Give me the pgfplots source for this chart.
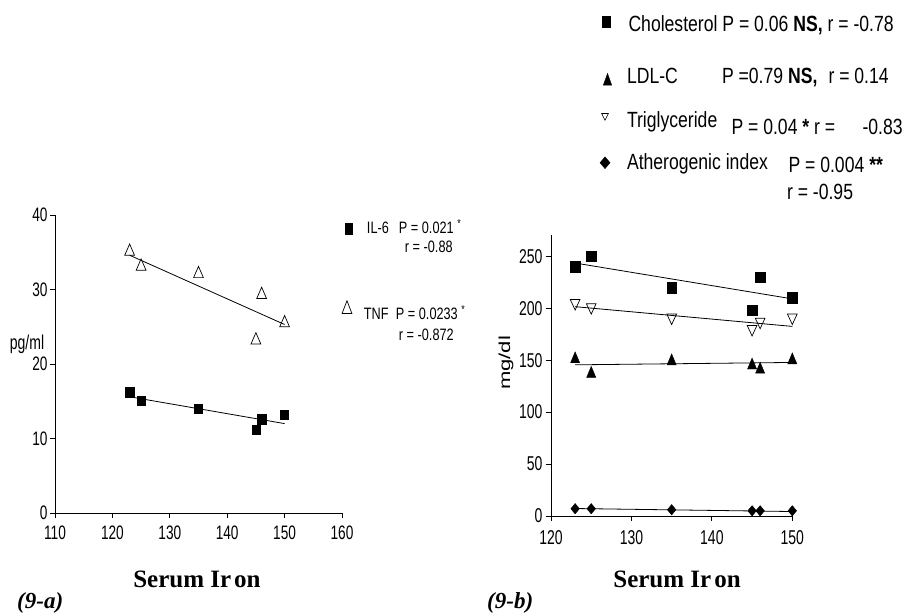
\documentclass[border=0pt]{standalone}
\usepackage{fontspec}
\setmainfont{Liberation Sans}
\newfontfamily\narA[FakeStretch=0.7]{Liberation Sans}
\newfontfamily\narL[FakeStretch=0.77]{Liberation Sans}
\newfontfamily\narB[FakeStretch=0.8]{Liberation Sans}
\newfontfamily\tms{Liberation Serif}
\usepackage{graphicx}
\usepackage{pgfplots}
\pgfplotsset{compat=1.18}
\usepackage{pgfplotstable}

\pgfplotsset{
  mlg/.style 2 args={legend image code/.code={\draw[##1,overlay] plot coordinates {(#1,#2)};}},
}
\newcommand{\lt}[3]{\rlap{\hspace{#1}\raisebox{#2}[0pt][0pt]{#3}}}

\pgfplotstableread{
x y
123 16.2
125 15.1
135 14.0
145 11.2
146 12.6
150 13.2
}\ilsix
\pgfplotstableread{
x y
123 15.6
150 12.0
}\ilsixfit
\pgfplotstableread{
x y
123 35.1
125 33.1
135 32.1
145 23.2
146 29.3
150 25.5
}\tnf
\pgfplotstableread{
x y
123 34.6
150 25.3
}\tnffit
\pgfplotstableread{
x y
123 240
125 250
135 219.5
145 198
146 230
150 210
}\chol
\pgfplotstableread{
x y
123 243.5
150 209
}\cholfit
\pgfplotstableread{
x y
123 151
125 137
135 149
145 145
146 141
150 150
}\ldl
\pgfplotstableread{
x y
123 145.5
150 147.8
}\ldlfit
\pgfplotstableread{
x y
123 205
125 201
135 191
145 180
146 187
150 191
}\trig
\pgfplotstableread{
x y
123 201.5
150 182.5
}\trigfit
\pgfplotstableread{
x y
123 7
125 7
135 6
145 5
146 5
150 5
}\ai
\pgfplotstableread{
x y
123 7.2
150 4.3
}\aifit

\begin{document}
\begin{tikzpicture}[x=1pt,y=1pt]
\path[use as bounding box] (0,0) rectangle (902,615);

% ---------------- left panel (9-a)
\begin{axis}[
  at={(55pt,102pt)}, anchor=south west, scale only axis,
  width=287pt, height=298pt,
  xmin=110, xmax=160, ymin=0, ymax=40,
  axis lines=left, axis line style={-, line width=0.9pt},
  xtick={110,120,...,160}, ytick={0,10,...,40},
  tick align=outside, major tick length=5pt,
  tick style={line width=0.9pt, black},
  tick label style={font=\narA\fontsize{19.5}{21}\selectfont},
  /pgf/number format/assume math mode=true,
  xticklabel style={yshift=-4pt},
  yticklabel style={xshift=1pt},
  clip=false,
  legend cell align=left,
  legend style={at={(rel axis cs:1.0226,0.9564)}, anchor=north west, draw=none, fill=none,
    font=\narL\fontsize{16.5}{19}\selectfont, inner sep=0pt, outer sep=0pt, row sep=0pt,
    nodes={inner sep=0pt, outer sep=0pt},
    /tikz/every odd column/.append style={column sep=15pt}},
]
\addlegendimage{black, mark=square*, mark size=5.8pt, mark options={xscale=0.6, fill=black}, mlg={0pt}{0pt}}
\addlegendentry{\lt{3pt}{-5.3pt}{IL-6}\lt{35pt}{-5.3pt}{P = 0.021 \textsuperscript{*}}\lt{41pt}{-24.7pt}{r = -0.88}}
\addlegendimage{black, mark=triangle, mark size=8.5pt, mark options={xscale=0.67, fill=white, line width=0.7pt}, mlg={-1.5pt}{-79pt}}
\addlegendentry{\lt{0pt}{-90.3pt}{TNF}\lt{32pt}{-90.3pt}{P = 0.0233 \textsuperscript{*}}\lt{35pt}{-111.3pt}{r = -0.872}}

\addplot[only marks, mark=square*, mark size=4.8pt, mark options={xscale=0.85, fill=black}, forget plot] table {\ilsix};
\addplot[black, line width=0.8pt, forget plot] table {\ilsixfit};
\addplot[only marks, mark=triangle, mark size=7.5pt, mark options={xscale=0.75, fill=white, line width=0.7pt}, forget plot] table {\tnf};
\addplot[black, line width=0.8pt, forget plot] table {\tnffit};
\end{axis}

% ---------------- right panel (9-b)
\begin{axis}[
  at={(551pt,99pt)}, anchor=south west, scale only axis,
  width=241.3pt, height=280.5pt,
  xmin=120, xmax=150, ymin=0, ymax=270,
  axis lines=left, axis line style={-, line width=0.9pt},
  xtick={120,130,...,150}, ytick={0,50,...,250},
  tick align=outside, major tick length=5pt,
  tick style={line width=0.9pt, black},
  tick label style={font=\narA\fontsize{20}{22}\selectfont},
  /pgf/number format/assume math mode=true,
  xticklabel style={yshift=-6pt},
  clip=false,
  legend cell align=left,
  legend style={at={(rel axis cs:0.228,1.7647)}, anchor=north west, draw=none, fill=none,
    font=\narB\fontsize{22}{26}\selectfont, inner sep=0pt, outer sep=0pt, row sep=0pt,
    nodes={inner sep=0pt, outer sep=0pt},
    /tikz/every odd column/.append style={column sep=20.5pt}},
]
\addlegendimage{black, mark=square*, mark size=5.85pt, mark options={xscale=0.71, fill=black}, mlg={0pt}{0pt}}
\addlegendentry{\lt{1.5pt}{-10.7pt}{Cholesterol P = 0.06 \textbf{NS,} r = -0.78}}
\addlegendimage{black, mark=triangle*, mark size=7.8pt, mark options={xscale=0.62, fill=black}, mlg={1.5pt}{-58pt}}
\addlegendentry{\lt{0pt}{-60.7pt}{LDL-C}\lt{95pt}{-60.7pt}{P =0.79 \textbf{NS,}}\lt{201.5pt}{-60.7pt}{r = 0.14}}
\addlegendimage{black, mark=triangle, mark size=4.5pt, mark options={rotate=180, xscale=0.86, fill=white, line width=0.6pt}, mlg={-1pt}{-91pt}}
\addlegendentry{\lt{0pt}{-104pt}{Triglyceride}\lt{104.5pt}{-110.7pt}{P = 0.04 \textbf{*} r =}\lt{235.5pt}{-110.7pt}{-0.83}}
\addlegendimage{black, mark=diamond*, mark size=5.85pt, mark options={xscale=1.14, fill=black}, mlg={-1pt}{-136.5pt}}
\addlegendentry{\lt{0pt}{-144pt}{Atherogenic index}\lt{161.5pt}{-147.3pt}{P = 0.004 \textbf{**}}\lt{160pt}{-174pt}{r = -0.95}}

\addplot[only marks, mark=square*, mark size=5.3pt, mark options={xscale=0.9, fill=black}, forget plot] table {\chol};
\addplot[black, line width=0.8pt, forget plot] table {\cholfit};
\addplot[only marks, mark=triangle*, mark size=7.3pt, mark options={xscale=0.72, fill=black}, forget plot] table {\ldl};
\addplot[black, line width=0.8pt, forget plot] table {\ldlfit};
\addplot[only marks, mark=triangle, mark size=7pt, mark options={rotate=180, xscale=0.8, fill=white, line width=0.7pt}, forget plot] table {\trig};
\addplot[black, line width=0.8pt, forget plot] table {\trigfit};
\addplot[only marks, mark=diamond*, mark size=5.2pt, mark options={xscale=1.1, fill=black}, forget plot] table {\ai};
\addplot[black, line width=0.8pt, forget plot] table {\aifit};
\end{axis}

% ---------------- labels
\node[anchor=center, font=\narA\fontsize{20}{22}\selectfont] at (27,271) {pg/ml};
\node[anchor=center, rotate=90] at (506,252) {\fontsize{22}{24}\selectfont\scalebox{1}[0.72]{mg/dl}};
\node[anchor=base, font=\tms\bfseries\fontsize{25}{28}\selectfont] at (197,27) {Serum Ir\kern3pt on};
\node[anchor=base, font=\tms\bfseries\fontsize{25}{28}\selectfont] at (677,27) {Serum Ir\kern3pt on};
\node[anchor=base west, inner sep=0pt, font=\tms\bfseries\itshape\fontsize{23}{26}\selectfont] at (17,6) {(9-a)};
\node[anchor=base west, inner sep=0pt, font=\tms\bfseries\itshape\fontsize{23}{26}\selectfont] at (487,6) {(9-b)};
\end{tikzpicture}
\end{document}
